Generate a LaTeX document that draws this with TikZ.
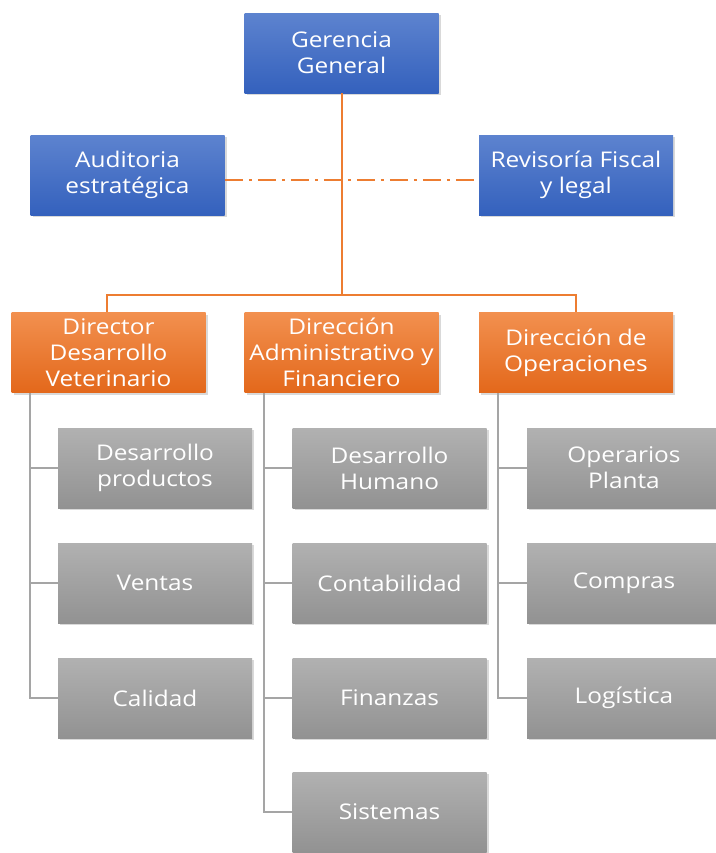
\documentclass[tikz,border=0pt]{standalone}
\usepackage{fontspec}
\setmainfont{Open Sans}[FakeStretch=1.13]
\usetikzlibrary{shadows}
\definecolor{bluetop}{HTML}{5D83CF}
\definecolor{bluebot}{HTML}{3461BD}
\definecolor{orangetop}{HTML}{F2904F}
\definecolor{orangebot}{HTML}{E3681B}
\definecolor{graytop}{HTML}{B1B1B1}
\definecolor{graybot}{HTML}{929292}
\definecolor{lineorange}{HTML}{ED7D31}
\definecolor{linegray}{HTML}{A5A5A5}
\tikzset{
  box/.style={minimum width=97pt,minimum height=40pt,inner sep=1pt,align=center,
    text=white,font=\fontsize{10.8}{13}\selectfont,
    drop shadow={opacity=0.3,shadow xshift=1pt,shadow yshift=-1.2pt}},
  bluebox/.style={box,top color=bluetop,bottom color=bluebot},
  orangebox/.style={box,top color=orangetop,bottom color=orangebot},
  graybox/.style={box,top color=graytop,bottom color=graybot},
  orgline/.style={draw=lineorange,line width=1pt},
  grayline/.style={draw=linegray,line width=1pt}
}

\begin{document}
\begin{tikzpicture}[x=0.5pt,y=-0.5pt]
  \clip (0,0) rectangle (716,853);
  \useasboundingbox (0,0) rectangle (716,853);

  \node[bluebox] (gerencia) at (341.5,53) {Gerencia\\General};
  \node[bluebox] (auditoria) at (127.5,175) {Auditoria\\estratégica};
  \node[bluebox] (revisoria) at (576,175) {Revisoría Fiscal\\y legal};

  \node[orangebox] (veterinario) at (108.5,352.5) {Director\\Desarrollo\\Veterinario};
  \node[orangebox] (administrativo) at (341.5,352.5) {Dirección\\Administrativo y\\Financiero};
  \node[orangebox] (operaciones) at (576,352.5) {Dirección de\\Operaciones};

  \node[graybox] (productos) at (155,468) {Desarrollo\\productos};
  \node[graybox] (ventas) at (155,583) {Ventas};
  \node[graybox] (calidad) at (155,698) {Calidad};

  \node[graybox] (humano) at (389.5,468) {Desarrollo\\Humano};
  \node[graybox] (contabilidad) at (389.5,583) {Contabilidad};
  \node[graybox] (finanzas) at (389.5,698) {Finanzas};
  \node[graybox] (sistemas) at (389.5,812) {Sistemas};

  \node[graybox] (operarios) at (624,468) {Operarios\\Planta};
  \node[graybox] (compras) at (624,583) {Compras};
  \node[graybox] (logistica) at (624,698) {Logística};

  \coordinate (bus) at (341.5,295);
  \draw[orgline, dash pattern=on 9pt off 3pt on 1.5pt off 3pt] (auditoria.east |- 0,180) -- (revisoria.west |- 0,180);
  \draw[orgline] (gerencia.south) -- (bus);
  \draw[orgline] (veterinario.north -| 107,0) |- (bus) -| (operaciones.north);

  \draw[grayline] (veterinario.south -| 30,0) |- (calidad.west);
  \draw[grayline] (30,468) -- (productos.west);
  \draw[grayline] (30,583) -- (ventas.west);

  \draw[grayline] (administrativo.south -| 264,0) |- (sistemas.west);
  \draw[grayline] (264,468) -- (humano.west);
  \draw[grayline] (264,583) -- (contabilidad.west);
  \draw[grayline] (264,698) -- (finanzas.west);

  \draw[grayline] (operaciones.south -| 498,0) |- (logistica.west);
  \draw[grayline] (498,468) -- (operarios.west);
  \draw[grayline] (498,583) -- (compras.west);
\end{tikzpicture}
\end{document}
